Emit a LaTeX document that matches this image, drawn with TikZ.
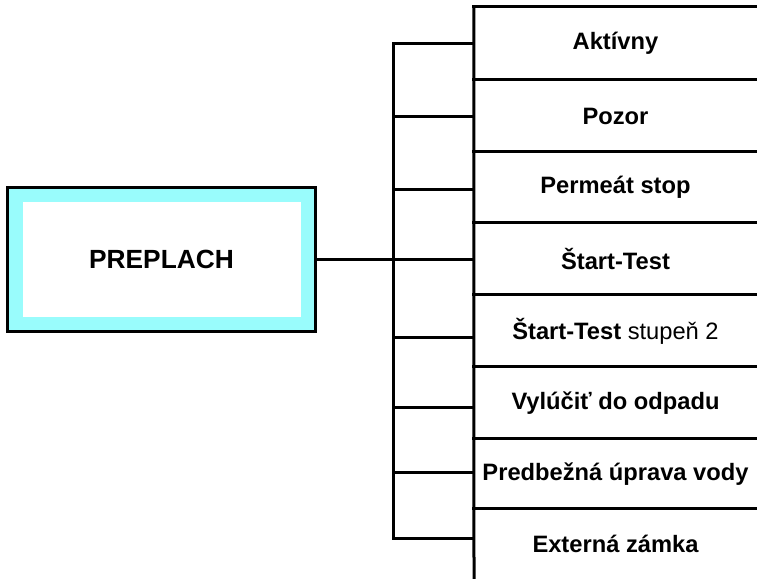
\documentclass[tikz,border=0pt]{standalone}
\usepackage{fontspec}
\setmainfont{Liberation Sans}
\definecolor{lightcyanb}{HTML}{99FCFC}
\begin{document}
\begin{tikzpicture}[x=1pt,y=-1pt,
  ln/.style={line width=3pt,line cap=rect},
  rowbox/.style={minimum width=283pt,minimum height=#1,inner sep=0pt,font=\fontsize{23.7}{28}\selectfont\bfseries},
  outerbox/.style={draw=black,line width=3pt,fill=lightcyanb,minimum width=308pt,minimum height=144pt,inner sep=0pt},
  innerbox/.style={fill=white,minimum width=278pt,minimum height=115pt,inner sep=0pt,font=\fontsize{26.3}{31}\selectfont\bfseries}]
\useasboundingbox (0,0) rectangle (757,578);
% main box
\node[outerbox] (main) at (161,259) {};
\node[innerbox] (maintext) at (161.5,259.5) {PREPLACH};
% rows
\node[rowbox=73pt] (r1) at (615.5,43.5) {Aktívny};
\node[rowbox=72pt] (r2) at (615.5,116) {Pozor};
\node[rowbox=71pt] (r3) at (615.5,187.5) {Permeát stop};
\node[rowbox=72pt] (r4) at (615.5,259) {Štart-Test};
\node[rowbox=72pt] (r5) at (615.5,331) {Štart-Test \mdseries stupeň 2};
\node[rowbox=72pt] (r6) at (615.5,403) {Vylúčiť do odpadu};
\node[rowbox=70pt] (r7) at (615.5,474) {Predbežná úprava vody};
\node[rowbox=69pt] (r8) at (615.5,543.5) {Externá zámka};
% column lines
\coordinate (colbot) at (474,578);
\draw[ln] (r1.north west) -- (colbot);
\foreach \r in {r1,r2,r3,r4,r5,r6,r7,r8}{
  \draw[ln] (\r.north west) -- (\r.north east);
}
% bracket
\coordinate (b1) at (393,44);
\coordinate (b2) at (393,116);
\coordinate (b3) at (393,189);
\coordinate (b4) at (393,259);
\coordinate (b5) at (393,337);
\coordinate (b6) at (393,407);
\coordinate (b7) at (393,472);
\coordinate (b8) at (393,538);
\draw[ln] (b1) -- (b8);
\foreach \i in {1,...,8}{
  \draw[ln] (b\i) -- (b\i -| r\i.west);
}
\draw[ln] (main.east) -- (b4);
\end{tikzpicture}
\end{document}
